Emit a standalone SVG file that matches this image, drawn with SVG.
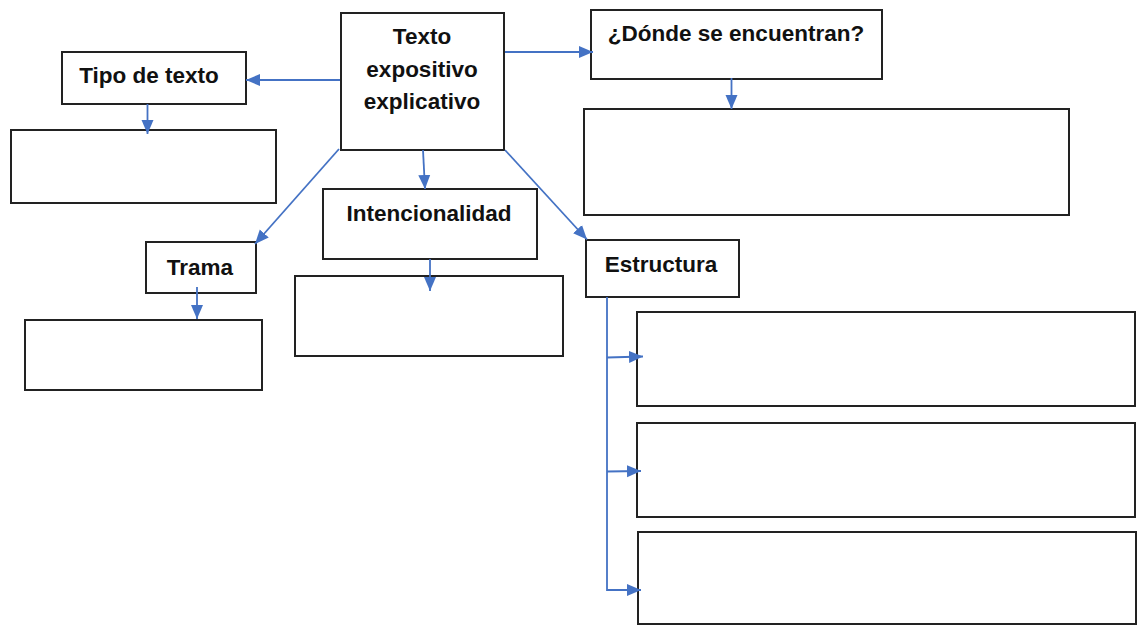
<svg xmlns="http://www.w3.org/2000/svg" width="1137" height="625" viewBox="0 0 1137 625">
<style>
.box{fill:#fff;stroke:#222;stroke-width:2}
.lbl{font-family:"Liberation Sans",Arial,sans-serif;font-weight:bold;font-size:22.5px;fill:#111}
.con{fill:none;stroke:#4472C4;stroke-width:1.8}
</style>
<defs>
<marker id="ah" markerUnits="userSpaceOnUse" markerWidth="15" markerHeight="15" viewBox="0 0 15 15" refX="14" refY="7.5" orient="auto">
<path d="M0,1.5 L14,7.5 L0,13.5 Z" fill="#4472C4"/>
</marker>
</defs>
<rect width="1137" height="625" fill="#fff"/>
<g id="n-central"><rect class="box" x="341" y="13" width="163" height="137"/>
<text class="lbl" x="422" y="44" text-anchor="middle">Texto</text>
<text class="lbl" x="422" y="77" text-anchor="middle">expositivo</text>
<text class="lbl" x="422" y="109" text-anchor="middle">explicativo</text></g>
<g id="n-tipo"><rect class="box" x="62" y="52" width="184" height="52"/>
<text class="lbl" x="149" y="83" text-anchor="middle">Tipo de texto</text></g>
<g id="n-tipo-resp"><rect class="box" x="11" y="130" width="265" height="73"/></g>
<g id="n-trama"><rect class="box" x="146" y="242" width="110" height="51"/>
<text class="lbl" x="200" y="275" text-anchor="middle">Trama</text></g>
<g id="n-trama-resp"><rect class="box" x="25" y="320" width="237" height="70"/></g>
<g id="n-intenc"><rect class="box" x="323" y="189" width="214" height="70"/>
<text class="lbl" x="429" y="221" text-anchor="middle">Intencionalidad</text></g>
<g id="n-intenc-resp"><rect class="box" x="295" y="276" width="268" height="80"/></g>
<g id="n-donde"><rect class="box" x="591" y="10" width="291" height="69"/>
<text class="lbl" x="736" y="41" text-anchor="middle">¿Dónde se encuentran?</text></g>
<g id="n-donde-resp"><rect class="box" x="584" y="109" width="485" height="106"/></g>
<g id="n-estructura"><rect class="box" x="586" y="240" width="153" height="57"/>
<text class="lbl" x="661" y="272" text-anchor="middle">Estructura</text></g>
<g id="n-est1"><rect class="box" x="637" y="312" width="498" height="94"/></g>
<g id="n-est2"><rect class="box" x="637" y="423" width="498" height="94"/></g>
<g id="n-est3"><rect class="box" x="638" y="532" width="498" height="92"/></g>
<g id="connectors">
<line class="con" x1="340" y1="80" x2="246" y2="80" marker-end="url(#ah)"/>
<line class="con" x1="147.5" y1="104" x2="147.5" y2="134" marker-end="url(#ah)"/>
<line class="con" x1="339" y1="149" x2="255" y2="244" marker-end="url(#ah)"/>
<line class="con" x1="423" y1="150" x2="425" y2="189" marker-end="url(#ah)"/>
<line class="con" x1="430" y1="259" x2="430" y2="291" marker-end="url(#ah)"/>
<line class="con" x1="197" y1="287" x2="197" y2="319" marker-end="url(#ah)"/>
<line class="con" x1="505" y1="52" x2="593" y2="52" marker-end="url(#ah)"/>
<line class="con" x1="731.5" y1="78" x2="731.5" y2="109" marker-end="url(#ah)"/>
<line class="con" x1="505" y1="150" x2="587" y2="239.5" marker-end="url(#ah)"/>
<polyline class="con" points="607,297 607,590 641,590" marker-end="url(#ah)"/>
<line class="con" x1="607" y1="357.5" x2="643" y2="356.5" marker-end="url(#ah)"/>
<line class="con" x1="607" y1="471.5" x2="641" y2="471" marker-end="url(#ah)"/>
</g>
</svg>
